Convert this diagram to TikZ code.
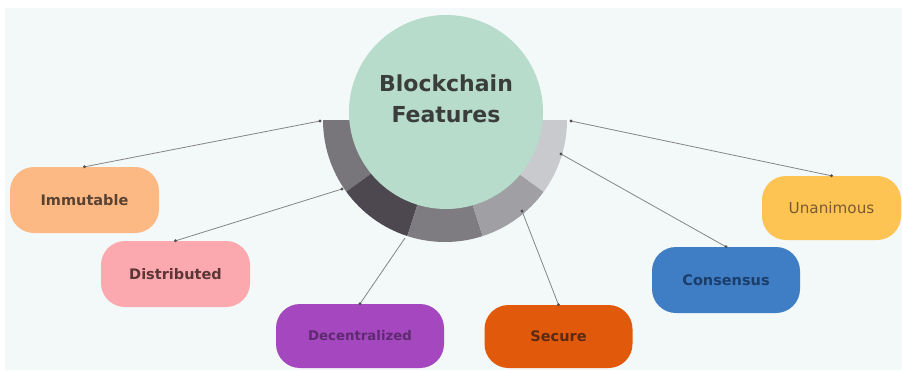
\documentclass[tikz,border=0pt]{standalone}
\usepackage{fontspec}
\setmainfont{DejaVu Sans}
\definecolor{panel}{HTML}{F3F8F9}
\definecolor{hubfill}{HTML}{B7DCCB}
\definecolor{hubtext}{HTML}{3A3D3B}
\definecolor{segA}{HTML}{78757B}
\definecolor{segB}{HTML}{4D484F}
\definecolor{segC}{HTML}{7F7C81}
\definecolor{segD}{HTML}{A09FA3}
\definecolor{segE}{HTML}{C9CACD}
\definecolor{linkgray}{HTML}{858585}
\definecolor{dotgray}{HTML}{505050}
\definecolor{immFill}{HTML}{FDB984}
\definecolor{immText}{HTML}{5A4232}
\definecolor{disFill}{HTML}{FBA9AE}
\definecolor{disText}{HTML}{5A3636}
\definecolor{decFill}{HTML}{A547BF}
\definecolor{decText}{HTML}{5E2A70}
\definecolor{secFill}{HTML}{E15A0C}
\definecolor{secText}{HTML}{5A2A12}
\definecolor{conFill}{HTML}{3F7EC4}
\definecolor{conText}{HTML}{1C3D6A}
\definecolor{unaFill}{HTML}{FDC454}
\definecolor{unaText}{HTML}{7A5A30}
\begin{document}
\begin{tikzpicture}[x=1pt,y=-1pt,
  feature/.style={rounded corners=24pt, inner sep=0pt,
    font=\bfseries\fontsize{14.5}{17}\selectfont},
  link/.style={draw=linkgray, line width=0.8pt},
  enddot/.style={fill=dotgray}
]
\useasboundingbox (0,0) rectangle (902,370);
% backdrop panel
\fill[white] (0,0) rectangle (902,370);
\fill[panel] (5,8) rectangle (902,370);

% shaded half ring below the hub
\coordinate (ring) at (445,120);
\fill[segA] (ring) -- ++(180:122) arc[start angle=180,end angle=144,radius=122] -- cycle;
\fill[segB] (ring) -- ++(144:122) arc[start angle=144,end angle=108,radius=122] -- cycle;
\fill[segC] (ring) -- ++(108:122) arc[start angle=108,end angle=72,radius=122] -- cycle;
\fill[segD] (ring) -- ++(72:122) arc[start angle=72,end angle=36,radius=122] -- cycle;
\fill[segE] (ring) -- ++(36:122) arc[start angle=36,end angle=0,radius=122] -- cycle;

% hub
\node[circle, fill=hubfill, minimum size=194pt, inner sep=0pt] (hub) at (446,112) {};
\node[font=\bfseries\fontsize{22}{31}\selectfont, text=hubtext, align=center] (title) at (446,99) {Blockchain\\Features};

% feature boxes
\node[feature, fill=immFill, text=immText, minimum width=149pt, minimum height=66pt] (imm) at (84.5,200) {Immutable};
\node[feature, fill=disFill, text=disText, minimum width=149pt, minimum height=66pt] (dis) at (175.5,274) {Distributed};
\node[feature, fill=decFill, text=decText, minimum width=168pt, minimum height=64pt,
      font=\bfseries\fontsize{13.3}{16}\selectfont] (dec) at (360,336) {Decentralized};
\node[feature, fill=secFill, text=secText, minimum width=148pt, minimum height=63pt] (sec) at (558.5,336.5) {Secure};
\node[feature, fill=conFill, text=conText, minimum width=148pt, minimum height=66pt] (con) at (726,280) {Consensus};
\node[feature, fill=unaFill, text=unaText, minimum width=139pt, minimum height=64pt,
      font=\fontsize{15.2}{18}\selectfont] (una) at (831.5,208) {Unanimous};

% connector start points on the ring
\coordinate (cImm) at (320,121);
\coordinate (cDis) at (342,189);
\coordinate (cDec) at (405,238);
\coordinate (cSec) at (522,211);
\coordinate (cCon) at (561,154);
\coordinate (cUna) at (571,121);

\draw[link] (cImm) -- (imm.north);
\draw[link] (cDis) -- (dis.north);
\draw[link] (cDec) -- (dec.north);
\draw[link] (cSec) -- (sec.north);
\draw[link] (cCon) -- (con.north);
\draw[link] (cUna) -- (una.north);

\foreach \p in {cImm,cDis,cSec,cCon,cUna,imm.north,dis.north,dec.north,sec.north,con.north,una.north}
  \fill[enddot] (\p) circle[radius=1.6pt];
\end{tikzpicture}
\end{document}
